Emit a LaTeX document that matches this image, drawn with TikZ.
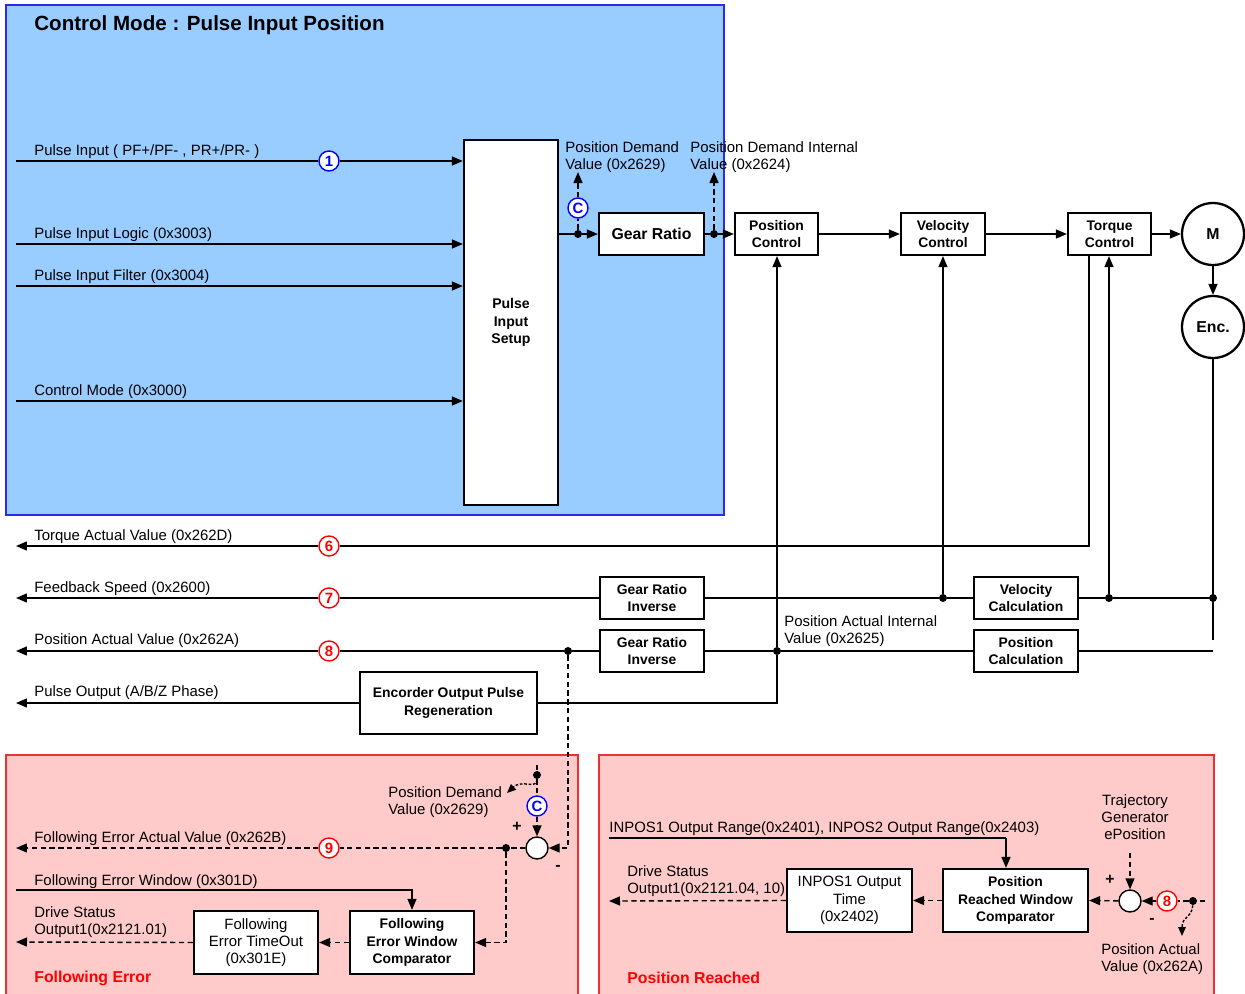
\documentclass[tikz,border=0pt]{standalone}
\usepackage{fontspec}
\setmainfont{Liberation Sans}
\usepackage{tikz}
\usetikzlibrary{arrows.meta}
\definecolor{panelblue}{HTML}{99CCFF}
\definecolor{panelred}{HTML}{FFCACA}
\definecolor{edgeblue}{HTML}{2A2AF0}
\definecolor{edgered}{HTML}{F03030}
\newcommand{\lblfont}{\fontsize{8.5}{9.8}\selectfont}
\newcommand{\boxfont}{\fontsize{7.9}{9.8}\selectfont\bfseries}

\begin{document}
\begin{tikzpicture}[x=0.02cm, y=-0.02cm,
  box/.style={draw, line width=1.3pt, fill=white, align=center, font=\boxfont, inner sep=0pt, minimum width=2.08cm, minimum height=0.84cm},
  tall/.style={box, minimum width=2.48cm, minimum height=1.26cm},
  thin/.style={tall, font=\lblfont},
  lbl/.style={anchor=west, inner sep=0pt, align=left, font=\lblfont, yshift=-1.1pt},
  numc/.style={circle, draw=blue, line width=0.8pt, fill=white, text=blue, font=\fontsize{8.5}{8.5}\selectfont\bfseries, inner sep=0pt, minimum size=0.4cm},
  numr/.style={numc, draw=red, text=red},
  dot/.style={circle, fill, inner sep=0pt, minimum size=0.16cm},
  sum/.style={circle, draw, line width=0.8pt, fill=white, inner sep=0pt, minimum size=0.44cm},
  motor/.style={circle, draw, line width=1.3pt, fill=white, font=\fontsize{9}{9}\selectfont\bfseries, inner sep=0pt, minimum size=1.24cm},
  sign/.style={inner sep=0pt, font=\fontsize{9}{9}\selectfont\bfseries},
  ln/.style={line width=0.8pt},
  arr/.style={ln, -{Triangle[length=2.2mm,width=1.8mm]}},
  dsh/.style={ln, dash pattern=on 3pt off 2pt},
  darr/.style={arr, dash pattern=on 3pt off 2pt},
  curl/.style={ln, dash pattern=on 1.5pt off 1pt, -{Triangle[length=1.8mm,width=1.5mm]}}]
\useasboundingbox (0,0) rectangle (1245,994);
% panels
\filldraw[fill=panelblue, draw=edgeblue, line width=0.8pt] (6,5) rectangle (724,515);
\filldraw[fill=panelred, draw=edgered, line width=0.8pt] (6,755) rectangle (578,1000);
\filldraw[fill=panelred, draw=edgered, line width=0.8pt] (599,755) rectangle (1214,1000);

% blocks
\node[anchor=west, inner sep=0pt, font=\fontsize{11.7}{12}\selectfont\bfseries] (title) at (34,25) {Control Mode : Pulse Input Position};
\node[box, minimum width=1.88cm, minimum height=7.3cm, font=\fontsize{8}{9.8}\selectfont\bfseries] (pis) at (511,322.5) {Pulse\\Input\\Setup};
\node[box, minimum width=2.1cm, font=\fontsize{9}{10}\selectfont\bfseries] (gr) at (651.5,234) {Gear Ratio};
\node[box, minimum width=1.66cm] (posctl) at (776.5,234) {Position\\Control};
\node[box, minimum width=1.68cm] (velctl) at (943,234) {Velocity\\Control};
\node[box, minimum width=1.66cm] (trqctl) at (1109.5,234) {Torque\\Control};
\node[motor] (mot) at (1213,234) {M};
\node[motor] (enc) at (1213,327) {Enc.};
\node[box] (gri1) at (652,598) {Gear Ratio\\Inverse};
\node[box] (gri2) at (652,651) {Gear Ratio\\Inverse};
\node[box] (velcalc) at (1026,598) {Velocity\\Calculation};
\node[box] (poscalc) at (1026,651) {Position\\Calculation};
\node[box, minimum width=3.54cm, minimum height=1.24cm] (eopr) at (448.5,703) {Encorder Output Pulse\\Regeneration};
\node[tall] (fewc) at (412,942.5) {Following\\Error Window\\Comparator};
\node[thin] (feto) at (256,942.5) {Following\\Error TimeOut\\(0x301E)};
\node[tall, minimum width=2.9cm] (prwc) at (1015.5,900.5) {Position\\Reached Window\\Comparator};
\node[thin, minimum width=2.5cm] (inpos) at (849.5,900.5) {INPOS1 Output\\Time\\(0x2402)};
\node[sum] (fesum) at (537,848) {};
\node[sum] (prsum) at (1130,901) {};

% markers and junctions
\node[numc] (n1) at (329,161) {1};
\node[numc] (c1) at (578,208) {C};
\node[numr] (n6) at (329,546) {6};
\node[numr] (n7) at (329,598) {7};
\node[numr] (n8) at (329,651) {8};
\node[numc] (c2) at (537,806) {C};
\node[numr] (n9) at (329,848) {9};
\node[numr] (n8b) at (1167,901) {8};
\node[dot] (d1) at (578,234) {};
\node[dot] (d2) at (714,234) {};
\node[dot] (dv) at (943,598) {};
\node[dot] (dt) at (1109,598) {};
\node[dot] (de) at (1213,598) {};
\node[dot] (dp) at (777,651) {};
\node[dot] (dq) at (568,651) {};
\node[dot] (dpd) at (537,775) {};
\node[dot] (dfe) at (506,848) {};
\node[dot] (dpa) at (1193,901) {};

% texts
\node[lbl] (lin1) at (34,150) {Pulse Input ( PF+/PF- , PR+/PR- )};
\node[lbl] (lin2) at (34,233) {Pulse Input Logic (0x3003)};
\node[lbl] (lin3) at (34,275) {Pulse Input Filter (0x3004)};
\node[lbl] (lin4) at (34,390) {Control Mode (0x3000)};
\node[lbl] (lpdv) at (565,155.5) {Position Demand\\Value (0x2629)};
\node[lbl] (lpdi) at (690,155.5) {Position Demand Internal\\Value (0x2624)};
\node[lbl] (lout6) at (34,535) {Torque Actual Value (0x262D)};
\node[lbl] (lout7) at (34,587) {Feedback Speed (0x2600)};
\node[lbl] (lout8) at (34,639) {Position Actual Value (0x262A)};
\node[lbl] (loutp) at (34,691) {Pulse Output (A/B/Z Phase)};
\node[lbl] (lpai) at (784,629.5) {Position Actual Internal\\Value (0x2625)};
\node[lbl] (lfepd) at (388,800.5) {Position Demand\\Value (0x2629)};
\node[lbl] (lfe9) at (34,837) {Following Error Actual Value (0x262B)};
\node[lbl] (lfew) at (34,880) {Following Error Window (0x301D)};
\node[lbl] (lfest) at (34,920.5) {Drive Status\\Output1(0x2121.01)};
\node[anchor=west, inner sep=0pt, text=red, font=\fontsize{9}{9}\selectfont\bfseries] (lfe) at (34,978) {Following Error};
\node[lbl] (lrng) at (609,827) {INPOS1 Output Range(0x2401), INPOS2 Output Range(0x2403)};
\node[lbl] (lprst) at (627,879.5) {Drive Status\\Output1(0x2121.04, 10)};
\node[lbl, anchor=center, align=center] (ltgp) at (1135,815) {Trajectory\\Generator\\ePosition};
\node[lbl] (lpav) at (1101,957.5) {Position Actual\\Value (0x262A)};
\node[anchor=west, inner sep=0pt, text=red, font=\fontsize{9}{9}\selectfont\bfseries] (lpr) at (627,978) {Position Reached};
\node[sign] (fplus) at (517,827) {+};
\node[sign] (fminus) at (558,868) {-};
\node[sign] (pplus) at (1110,880) {+};
\node[sign] (pminus) at (1152,921) {-};

% free ends
\coordinate (in1) at (16,161);
\coordinate (in2) at (16,244);
\coordinate (in3) at (16,286);
\coordinate (in4) at (16,401);
\coordinate (pdv) at (578,172);
\coordinate (pdi) at (714,172);
\coordinate (tq) at (1089,546);
\coordinate (out6) at (16,546);
\coordinate (out7) at (16,598);
\coordinate (out8) at (16,651);
\coordinate (outp) at (16,703);
\coordinate (encend) at (1213,640);
\coordinate (posin) at (1213,651);
\coordinate (pdtop) at (537,765);
\coordinate (pdarr) at (507,793);
\coordinate (fe9) at (16,848);
\coordinate (few) at (16,890);
\coordinate (fst) at (16,942);
\coordinate (inr) at (609,838);
\coordinate (inrk) at (1006,838);
\coordinate (prst) at (609,901);
\coordinate (tgp) at (1130,853);
\coordinate (pre) at (1205,901);
\coordinate (paarr) at (1182,936);

% forward path
\draw[ln] (in1) -- (n1); \draw[arr] (n1) -- (n1 -| pis.west);
\draw[arr] (in2) -- (in2 -| pis.west);
\draw[arr] (in3) -- (in3 -| pis.west);
\draw[arr] (in4) -- (in4 -| pis.west);
\draw[ln] (pis.east |- d1) -- (d1); \draw[arr] (d1) -- (gr.west);
\draw[dsh] (d1) -- (c1); \draw[darr] (c1) -- (pdv);
\draw[ln] (gr.east) -- (d2); \draw[arr] (d2) -- (posctl.west);
\draw[darr] (d2) -- (pdi);
\draw[arr] (posctl) -- (velctl); \draw[arr] (velctl) -- (trqctl); \draw[arr] (trqctl) -- (mot);
\draw[arr] (mot) -- (enc);

% feedback
\draw[ln] (trqctl.south -| tq) -- (tq) -- (n6); \draw[arr] (n6) -- (out6);
\draw[ln] (enc.south) -- (encend);
\draw[ln] (de) -- (dt) -- (velcalc.east);
\draw[arr] (dt) -- (dt |- trqctl.south);
\draw[ln] (velcalc.west) -- (dv) -- (gri1.east);
\draw[arr] (dv) -- (dv |- velctl.south);
\draw[ln] (gri1.west) -- (n7); \draw[arr] (n7) -- (out7);
\draw[ln] (posin) -- (poscalc.east);
\draw[ln] (poscalc.west) -- (dp) -- (gri2.east);
\draw[arr] (dp) -- (dp |- posctl.south);
\draw[ln] (dp) |- (eopr.east);
\draw[ln] (gri2.west) -- (dq) -- (n8); \draw[arr] (n8) -- (out8);
\draw[arr] (eopr.west) -- (outp);

% following error
\draw[darr] (dq) |- (fesum.east);
\draw[dsh] (pdtop) -- (dpd) -- (c2); \draw[darr] (c2) -- (fesum);
\draw[curl] (dpd) .. controls (537,790) and (522,779) .. (pdarr);
\draw[dsh] (fesum) -- (dfe) -- (n9); \draw[darr] (n9) -- (fe9);
\draw[darr] (dfe) |- (fewc.east);
\draw[arr] (few) -| (fewc.north);
\draw[darr] (fewc) -- (feto);
\draw[darr] (feto.west) -- (fst);

% position reached
\draw[ln] (inr) -- (inrk); \draw[arr] (inrk) -- (inrk |- prwc.north);
\draw[darr] (prwc) -- (inpos);
\draw[darr] (inpos.west) -- (prst);
\draw[darr] (tgp) -- (prsum);
\draw[darr] (prsum) -- (prwc.east);
\draw[dsh] (pre) -- (dpa) -- (n8b); \draw[darr] (n8b) -- (prsum);
\draw[curl] (dpa) .. controls (1192,918) and (1182,916) .. (paarr);
\end{tikzpicture}
\end{document}
